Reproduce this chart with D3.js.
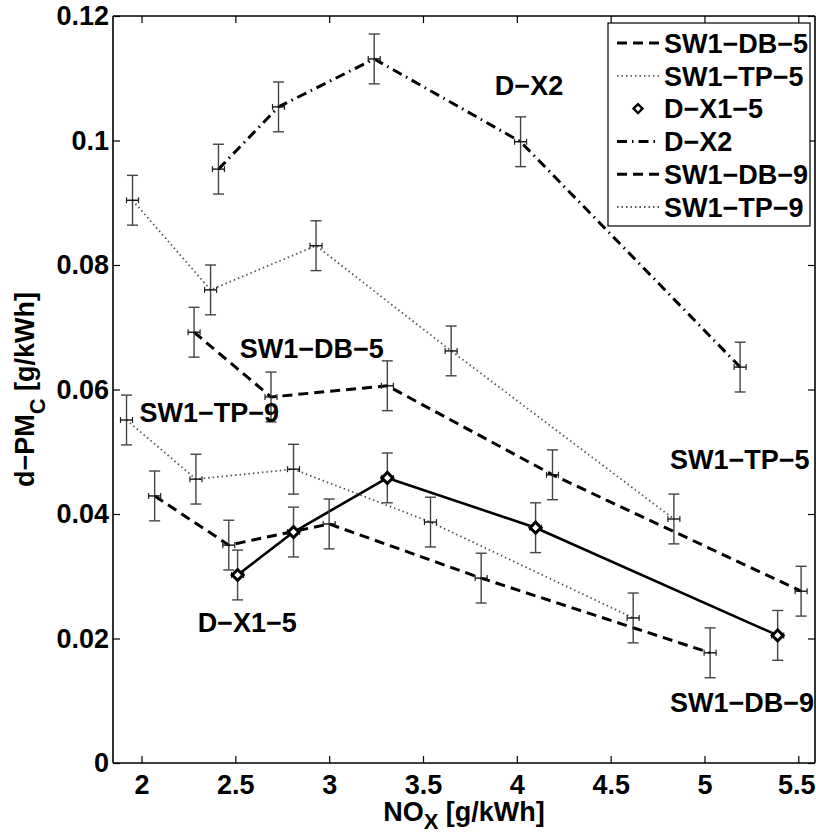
<!DOCTYPE html>
<html><head><meta charset="utf-8">
<script src="https://cdn.jsdelivr.net/npm/d3@7"></script>
<style>
body{margin:0;background:#fff;}
text{font-family:"Liberation Sans",Arial,Helvetica,sans-serif;font-weight:bold;}
</style></head>
<body><svg id="c" width="816" height="834"></svg>
<script>
// ---- data ----
const seriesNames = ["SW1−DB−5","SW1−TP−5","D−X1−5","D−X2","SW1−DB−9","SW1−TP−9"];
const sw1db5X = [2.28, 2.69, 3.31, 4.19, 5.515];
const sw1db5Y = [0.0692, 0.0588, 0.0606, 0.0463, 0.0276];
const sw1tp5X = [1.952, 2.368, 2.93, 3.65, 4.837];
const sw1tp5Y = [0.0904, 0.0760, 0.0831, 0.0662, 0.0392];
const dx15X = [2.512, 2.81, 3.31, 4.10, 5.39];
const dx15Y = [0.0302, 0.0371, 0.0458, 0.0378, 0.0205];
const dx2X = [2.41, 2.73, 3.24, 4.02, 5.19];
const dx2Y = [0.0954, 0.1054, 0.1131, 0.0998, 0.0636];
const sw1db9X = [2.07, 2.465, 3.0, 3.81, 5.03];
const sw1db9Y = [0.0429, 0.0350, 0.0384, 0.0297, 0.0177];
const sw1tp9X = [1.92, 2.29, 2.81, 3.54, 4.62];
const sw1tp9Y = [0.0551, 0.0456, 0.0472, 0.0387, 0.0233];
const yErr = 0.004;
const xErr = 0.032;
const xTicks = [2, 2.5, 3, 3.5, 4, 4.5, 5, 5.5];
const yTicks = [0, 0.02, 0.04, 0.06, 0.08, 0.1, 0.12];
const xDomain = [1.848, 5.589];
const yDomain = [0, 0.12];
// in-plot annotations (data coordinates)
const annText = ["D−X2","SW1−DB−5","SW1−TP−9","SW1−TP−5","D−X1−5","SW1−DB−9"];
const annX = [3.883, 2.523, 1.989, 4.816, 2.299, 4.816];
const annY = [0.1073, 0.0651, 0.0548, 0.0472, 0.0210, 0.0082];

// ---- styles ----
const styles = {
  "SW1−DB−5": {dash:"10,6", width:3, color:"#000", marker:false},
  "SW1−TP−5": {dash:"1.5,3", width:1.8, color:"#555", marker:false},
  "D−X1−5":   {dash:null, width:2.6, color:"#000", marker:true},
  "D−X2":     {dash:"10,5,1.5,5", width:3, color:"#000", marker:false},
  "SW1−DB−9": {dash:"10,6", width:3, color:"#000", marker:false},
  "SW1−TP−9": {dash:"1.5,3", width:1.8, color:"#555", marker:false}
};
const xs = [sw1db5X, sw1tp5X, dx15X, dx2X, sw1db9X, sw1tp9X];
const ys = [sw1db5Y, sw1tp5Y, dx15Y, dx2Y, sw1db9Y, sw1tp9Y];
const series = seriesNames.map((n,i)=>({name:n, pts: xs[i].map((x,j)=>({x:x, y:ys[i][j]}))}));

const svg = d3.select("#c");
const W = 816, H = 834;
const m = {left:113, top:16, right:1, bottom:71};
const x = d3.scaleLinear().domain(xDomain).range([m.left, W-m.right]);
const y = d3.scaleLinear().domain(yDomain).range([H-m.bottom, m.top]);
const FS = 27;

svg.append("rect").attr("width",W).attr("height",H).attr("fill","#fff");

// axes with inward ticks
const tl = 7;
const gB = svg.append("g").attr("transform",`translate(0,${y(0)})`)
  .call(d3.axisBottom(x).tickValues(xTicks).tickSize(-tl).tickPadding(8).tickFormat(d3.format("")));
const gT = svg.append("g").attr("transform",`translate(0,${m.top})`)
  .call(d3.axisTop(x).tickValues(xTicks).tickSize(-tl).tickFormat(""));
const gL = svg.append("g").attr("transform",`translate(${m.left},0)`)
  .call(d3.axisLeft(y).tickValues(yTicks).tickSize(-tl).tickPadding(4).tickFormat(d3.format("")));
const gR = svg.append("g").attr("transform",`translate(${W-m.right},0)`)
  .call(d3.axisRight(y).tickValues(yTicks).tickSize(-tl).tickFormat(""));
[gB,gT,gL,gR].forEach(g=>{
  g.select(".domain").attr("stroke","#000").attr("stroke-width",1.6);
  g.selectAll(".tick line").attr("stroke","#000").attr("stroke-width",1.2);
  g.selectAll("text").attr("font-size",FS).attr("font-family","Liberation Sans, Arial, sans-serif")
   .attr("font-weight","bold").attr("fill","#000");
});
gB.selectAll("text").attr("dy","0.84em");
gB.selectAll(".tick").filter(d=>d===5.5).select("text").attr("dx",-2);
gB.select(".domain").attr("d",`M${x.range()[0]},0H${x.range()[1]}`);
gT.select(".domain").attr("d",`M${x.range()[0]},0H${x.range()[1]}`);
gL.select(".domain").attr("d",`M0,${y.range()[0]}V${y.range()[1]}`);
gR.select(".domain").attr("d",`M0,${y.range()[0]}V${y.range()[1]}`);

// lines
const line = d3.line().x(d=>x(d.x)).y(d=>y(d.y));
const plot = svg.append("g");
series.forEach(s=>{
  const st = styles[s.name];
  plot.append("path").datum(s.pts).attr("d",line).attr("fill","none")
    .attr("stroke",st.color).attr("stroke-width",st.width)
    .attr("stroke-dasharray",st.dash).attr("stroke-linejoin","round");
});
// error bars
series.forEach(s=>{
  s.pts.forEach(p=>{
    const g = plot.append("g");
    const cx = x(p.x), cy = y(p.y);
    const y1 = y(p.y+yErr), y2 = y(p.y-yErr);
    g.append("line").attr("x1",cx).attr("x2",cx).attr("y1",y1).attr("y2",y2).attr("stroke","#444").attr("stroke-width",1.4);
    g.append("line").attr("x1",cx-5.5).attr("x2",cx+5.5).attr("y1",y1).attr("y2",y1).attr("stroke","#444").attr("stroke-width",1.4);
    g.append("line").attr("x1",cx-5.5).attr("x2",cx+5.5).attr("y1",y2).attr("y2",y2).attr("stroke","#444").attr("stroke-width",1.4);
    const xa = x(p.x-xErr), xb = x(p.x+xErr);
    g.append("line").attr("x1",xa).attr("x2",xb).attr("y1",cy).attr("y2",cy).attr("stroke","#111").attr("stroke-width",1.4);
    g.append("line").attr("x1",xa).attr("x2",xa).attr("y1",cy-3).attr("y2",cy+3).attr("stroke","#222").attr("stroke-width",1.2);
    g.append("line").attr("x1",xb).attr("x2",xb).attr("y1",cy-3).attr("y2",cy+3).attr("stroke","#222").attr("stroke-width",1.2);
  });
});
// diamonds (square rotated 45°)
const diamond = d3.symbol().type(d3.symbolSquare).size(60);
series.filter(s=>styles[s.name].marker).forEach(s=>{
  plot.selectAll(null).data(s.pts).enter().append("path")
    .attr("d",diamond).attr("transform",d=>`translate(${x(d.x)},${y(d.y)}) rotate(45)`)
    .attr("fill","#fff").attr("stroke","#000").attr("stroke-width",3);
});

// annotations
annText.forEach((t,i)=>{
  svg.append("text").attr("x",x(annX[i])).attr("y",y(annY[i])).attr("font-size",FS).text(t);
});

// legend
const lg = svg.append("g");
const lx0 = 608, ly0 = 23, lw = 202, lh = 203;
lg.append("rect").attr("x",lx0).attr("y",ly0).attr("width",lw).attr("height",lh)
  .attr("fill","#fff").attr("stroke","#000").attr("stroke-width",1.2);
seriesNames.forEach((n,i)=>{
  const st = styles[n];
  const cy = 43 + i*32.8;
  if(st.marker){
    lg.append("path").attr("d",d3.symbol().type(d3.symbolSquare).size(40))
      .attr("transform",`translate(638,${cy}) rotate(45)`).attr("fill","#fff").attr("stroke","#000").attr("stroke-width",2.4);
  } else {
    lg.append("line").attr("x1",617).attr("x2",659).attr("y1",cy).attr("y2",cy)
      .attr("stroke",st.color).attr("stroke-width",st.width).attr("stroke-dasharray",st.dash);
  }
  lg.append("text").attr("x",664).attr("y",cy).attr("dy","0.36em").attr("font-size",FS).text(n);
});

// axis labels
const xl = svg.append("text").attr("x",(x.range()[0]+x.range()[1])/2).attr("y",821)
  .attr("text-anchor","middle").attr("font-size",FS);
xl.append("tspan").text("NO");
xl.append("tspan").attr("dy",8).attr("font-size",22).text("X");
xl.append("tspan").attr("dy",-8).text(" [g/kWh]");

const ycx = 34, ycy = (y.range()[0]+y.range()[1])/2;
const yl = svg.append("text").attr("transform",`translate(${ycx},${ycy}) rotate(-90)`)
  .attr("text-anchor","middle").attr("font-size",FS);
yl.append("tspan").text("d−PM");
yl.append("tspan").attr("dy",11).attr("font-size",22).text("C");
yl.append("tspan").attr("dy",-11).text(" [g/kWh]");
</script></body></html>
